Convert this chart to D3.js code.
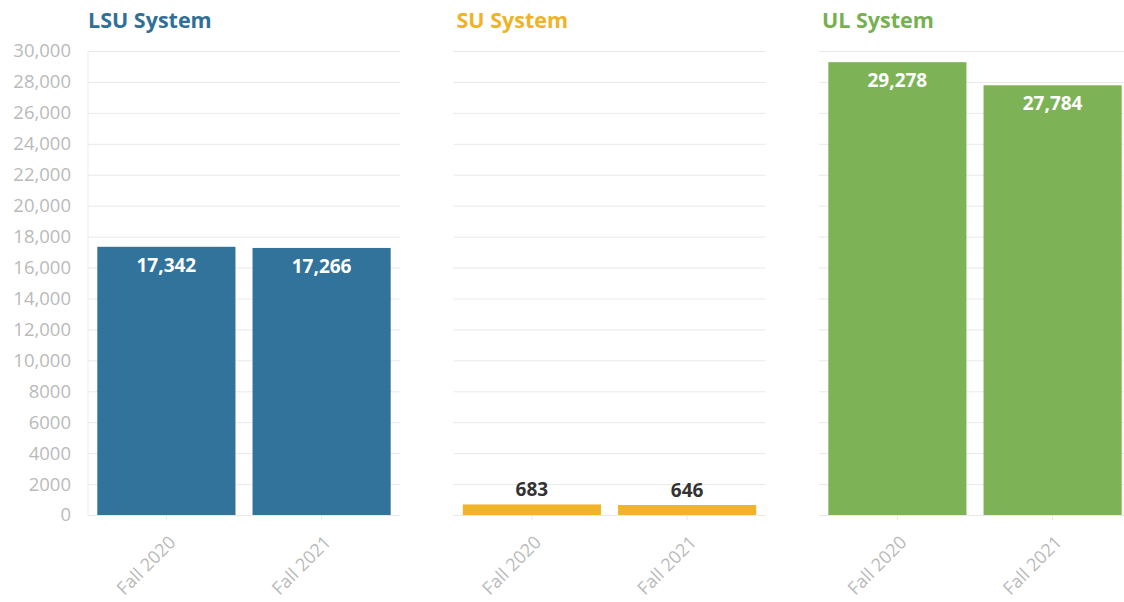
<!DOCTYPE html>
<html>
<head>
<meta charset="utf-8">
<script src="https://cdn.jsdelivr.net/npm/d3@7"></script>
<style>
  body { margin: 0; background: #fff; font-family: "Open Sans", sans-serif; }
  .grid line { stroke: #e9e9e9; }
  .grid path { display: none; }
  .ytick text { fill: #bababa; font-size: 18.5px; }
  .xlab text { fill: #bababa; font-size: 18px; }
</style>
</head>
<body>
<div id="chart"></div>
<script>
// data
const systems  = ["LSU System", "SU System", "UL System"];
const terms    = ["Fall 2020", "Fall 2021"];
const lsuVals  = [17342, 17266];
const suVals   = [683, 646];
const ulVals   = [29278, 27784];
const colors   = ["#31739b", "#f0b429", "#7db356"];
const titleCol = ["#2f6f98", "#f0b323", "#76b04f"];
const yTicks   = [0, 2000, 4000, 6000, 8000, 10000, 12000, 14000, 16000, 18000, 20000, 22000, 24000, 26000, 28000, 30000];

const W = 1124, H = 602;
const PANEL = { LEFT: 88, STEP: 365.5, WIDTH: 312, TOP: 51, BOTTOM: 515 };

const svg = d3.select("#chart").append("svg")
  .attr("width", W).attr("height", H);

const y = d3.scaleLinear().domain([0, 30000]).range([PANEL.BOTTOM, PANEL.TOP]);
const fmt = v => v >= 10000 ? d3.format(",")(v) : String(v);

// y axis labels (left only)
svg.append("g")
  .attr("class", "ytick")
  .selectAll("text")
  .data(yTicks)
  .enter().append("text")
  .attr("x", 71)
  .attr("y", d => y(d))
  .attr("dy", "0.35em")
  .attr("text-anchor", "end")
  .text(fmt);

// faint y axis line
svg.append("line")
  .attr("x1", PANEL.LEFT).attr("x2", PANEL.LEFT)
  .attr("y1", PANEL.TOP).attr("y2", PANEL.BOTTOM)
  .attr("stroke", "#f3ece4");

const allVals = [lsuVals, suVals, ulVals];

systems.forEach((name, i) => {
  const x0 = PANEL.LEFT + i * PANEL.STEP;
  const g = svg.append("g").attr("transform", `translate(${x0},0)`);
  const vals = allVals[i];

  const x = d3.scaleBand().domain(terms).range([0, PANEL.WIDTH])
    .paddingInner(0.11).paddingOuter(0.06);

  // gridlines
  g.append("g")
    .attr("class", "grid")
    .call(d3.axisLeft(y).tickValues(yTicks).tickSize(-PANEL.WIDTH).tickFormat(""));

  // title
  g.append("text")
    .attr("x", i === 0 ? 0 : 3).attr("y", 28)
    .attr("fill", titleCol[i])
    .attr("font-size", 21.5).attr("font-weight", 700)
    .text(name);

  // bars
  g.selectAll("rect")
    .data(terms)
    .enter().append("rect")
    .attr("x", d => x(d))
    .attr("width", x.bandwidth())
    .attr("y", (d, j) => y(vals[j]))
    .attr("height", (d, j) => y(0) - y(vals[j]))
    .attr("fill", colors[i]);

  // value labels
  g.selectAll(".val")
    .data(terms)
    .enter().append("text")
    .attr("class", "val")
    .attr("x", d => x(d) + x.bandwidth() / 2)
    .attr("y", (d, j) => {
      const top = y(vals[j]);
      return (y(0) - top) > 40 ? top + 25 : top - 8;
    })
    .attr("text-anchor", "middle")
    .attr("font-size", 19).attr("font-weight", 700)
    .attr("fill", (d, j) => (y(0) - y(vals[j])) > 40 ? "#fff" : "#333")
    .text((d, j) => d3.format(",")(vals[j]));

  // x tick marks
  g.selectAll(".xt")
    .data(terms)
    .enter().append("line")
    .attr("x1", d => x(d) + x.bandwidth() / 2)
    .attr("x2", d => x(d) + x.bandwidth() / 2)
    .attr("y1", PANEL.BOTTOM).attr("y2", PANEL.BOTTOM + 5)
    .attr("stroke", "#e8e8e8");

  // x labels
  g.append("g").attr("class", "xlab")
    .selectAll("text")
    .data(terms)
    .enter().append("text")
    .attr("transform", d => `translate(${x(d) + x.bandwidth() / 2 + 6},${PANEL.BOTTOM + 24}) rotate(-45)`)
    .attr("text-anchor", "end")
    .attr("dy", "0.35em")
    .text(d => d);
});
</script>
</body>
</html>
